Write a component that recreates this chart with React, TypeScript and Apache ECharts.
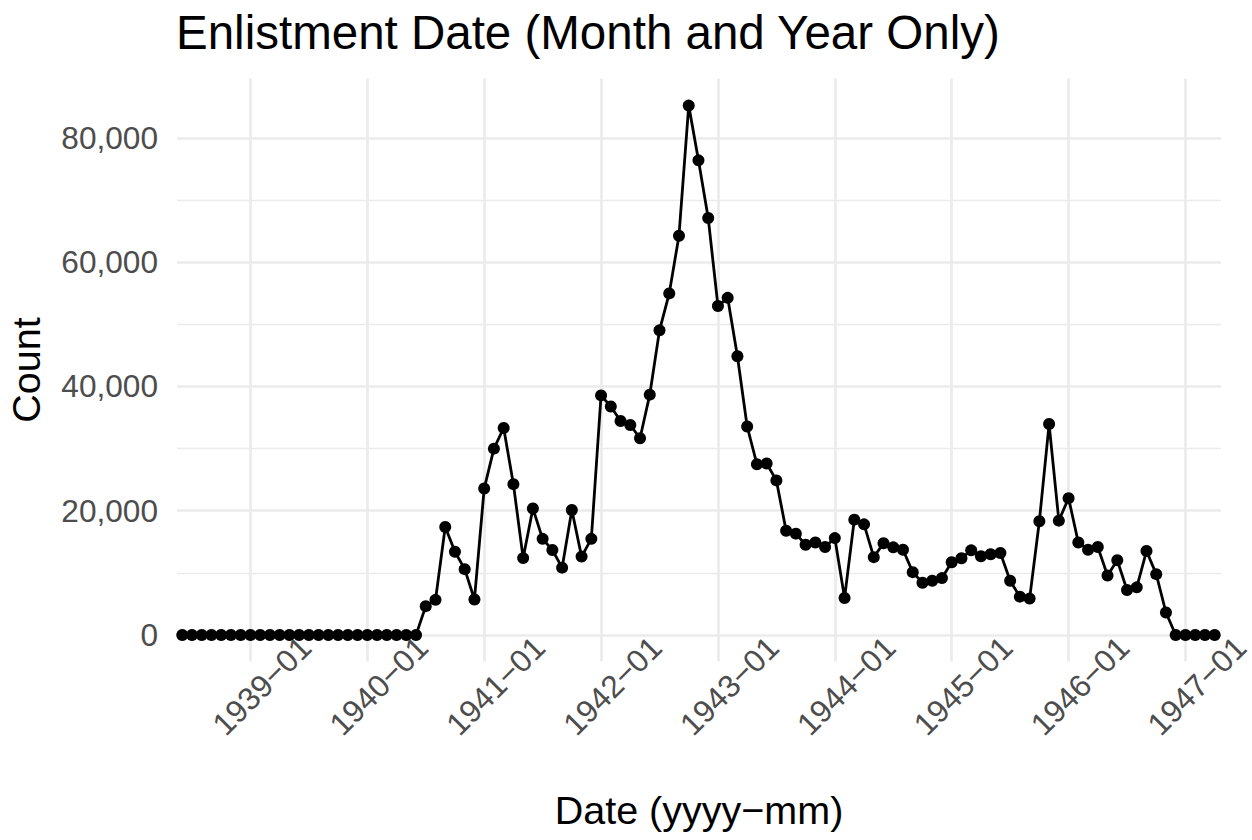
import React, { useEffect, useRef } from "react";
import * as echarts from "echarts";

// First month of the series (yyyy-mm); one value per consecutive month follows
const startMonth = "1938-06";

// Monthly enlistment counts
const counts1938 = [0, 0, 0, 0, 0, 0, 0]; // Jun–Dec
const counts1939 = [0, 0, 0, 0, 0, 0, 0, 0, 0, 0, 0, 0];
const counts1940 = [0, 0, 0, 0, 0, 0, 4640, 5650, 17370, 13390, 10590, 5710];
const counts1941 = [23560, 29980, 33310, 24270, 12370, 20350, 15470, 13680, 10830, 20110, 12610, 15470];
const counts1942 = [38550, 36760, 34440, 33790, 31650, 38670, 49020, 54970, 64250, 85190, 76380, 67100];
const counts1943 = [52940, 54250, 44850, 33550, 27480, 27600, 24870, 16780, 16300, 14510, 14870, 14160];
const counts1944 = [15590, 5950, 18560, 17800, 12520, 14770, 14100, 13720, 10110, 8400, 8720, 9150];
const counts1945 = [11700, 12340, 13620, 12660, 12980, 13190, 8720, 6170, 5850, 18300, 33940, 18400];
const counts1946 = [22020, 14890, 13720, 14150, 9570, 12020, 7230, 7660, 13510, 9790, 3620, 0];
const counts1947 = [0, 0, 0, 0]; // Jan–Apr

const counts = [
  ...counts1938, ...counts1939, ...counts1940, ...counts1941, ...counts1942,
  ...counts1943, ...counts1944, ...counts1945, ...counts1946, ...counts1947,
];

const xTickLabels = ["1939-01", "1940-01", "1941-01", "1942-01", "1943-01", "1944-01", "1945-01", "1946-01", "1947-01"];
const yTickValues = [0, 20000, 40000, 60000, 80000];
const yMinorValues = [10000, 30000, 50000, 70000];

const titleText = "Enlistment Date (Month and Year Only)";
const xTitle = "Date (yyyy\u2212mm)";
const yTitle = "Count";

const BASE_YEAR = 1938;
const monthIndex = (s: string) => {
  const [y, m] = s.split("-").map(Number);
  return (y - BASE_YEAR) * 12 + (m - 1);
};

const FONT = "'Liberation Sans', Arial, Helvetica, sans-serif";

export default function App() {
  const ref = useRef<HTMLDivElement>(null);
  useEffect(() => {
    if (!ref.current) return;
    const chart = echarts.init(ref.current, undefined, { renderer: "svg" });
    const start = monthIndex(startMonth);
    const seriesData = counts.map((v, i) => [start + i, v]);
    const xTicks = xTickLabels.map(monthIndex);
    const labelFor = (v: number) => {
      const i = xTicks.findIndex((t) => Math.abs(t - v) < 1e-6);
      return i >= 0 ? xTickLabels[i].replace("-", "\u2212") : "";
    };
    const yMin = -4270;
    const yMax = 89550;
    const option: any = {
      animation: false,
      backgroundColor: "#FFFFFF",
      title: {
        text: titleText,
        left: 176,
        top: 8,
        padding: 0,
        textStyle: { fontSize: 47.5, fontWeight: "normal", color: "#000000", fontFamily: FONT },
      },
      grid: {
        left: 177,
        right: 31,
        top: 78.5,
        bottom: 178.5,
        containLabel: false,
        outerBoundsMode: "none",
      },
      xAxis: {
        type: "value",
        min: 4.46,
        max: 111.65,
        name: xTitle,
        nameLocation: "middle",
        nameGap: 128,
        nameMoveOverlap: false,
        nameTextStyle: { fontSize: 39.5, color: "#000000", fontFamily: FONT },
        axisLine: { show: false },
        axisTick: { show: false, customValues: xTicks },
        axisLabel: {
          customValues: xTicks,
          formatter: (v: number) => labelFor(v),
          rotate: 45,
          align: "center",
          verticalAlign: "top",
          margin: 13,
          fontSize: 31.6,
          color: "#4D4D4D",
          fontFamily: FONT,
          hideOverlap: false,
        },
        splitLine: { show: true, lineStyle: { color: "#EBEBEB", width: 2.7 } },
      },
      yAxis: [
        {
          type: "value",
          min: yMin,
          max: yMax,
          name: yTitle,
          nameLocation: "middle",
          nameRotate: 90,
          nameGap: 131,
          nameMoveOverlap: false,
          nameTextStyle: { fontSize: 39.5, color: "#000000", fontFamily: FONT },
          axisLine: { show: false },
          axisTick: { show: false, customValues: yTickValues },
          axisLabel: {
            customValues: yTickValues,
            formatter: (v: number) => Math.round(v).toLocaleString("en-US"),
            margin: 19,
            fontSize: 31.6,
            color: "#4D4D4D",
            fontFamily: FONT,
          },
          splitLine: { show: true, lineStyle: { color: "#EBEBEB", width: 2.7 } },
        },
        {
          type: "value",
          position: "left",
          min: yMin,
          max: yMax,
          axisLine: { show: false },
          axisTick: { show: false, customValues: yMinorValues },
          axisLabel: { show: false, customValues: yMinorValues },
          splitLine: { show: true, lineStyle: { color: "#EBEBEB", width: 1.35 } },
        },
      ],
      series: [
        {
          type: "line",
          xAxisIndex: 0,
          yAxisIndex: 0,
          data: seriesData,
          symbol: "circle",
          symbolSize: 12,
          showAllSymbol: true,
          clip: false,
          lineStyle: { color: "#000000", width: 2.8, join: "round", cap: "round" },
          itemStyle: { color: "#000000" },
          emphasis: { disabled: true },
        },
      ],
    };
    chart.setOption(option);
    return () => chart.dispose();
  }, []);
  return (
    <div
      ref={ref}
      style={{ position: "absolute", left: 0, top: 0, width: 1252, height: 840, background: "#FFFFFF" }}
    />
  );
}
